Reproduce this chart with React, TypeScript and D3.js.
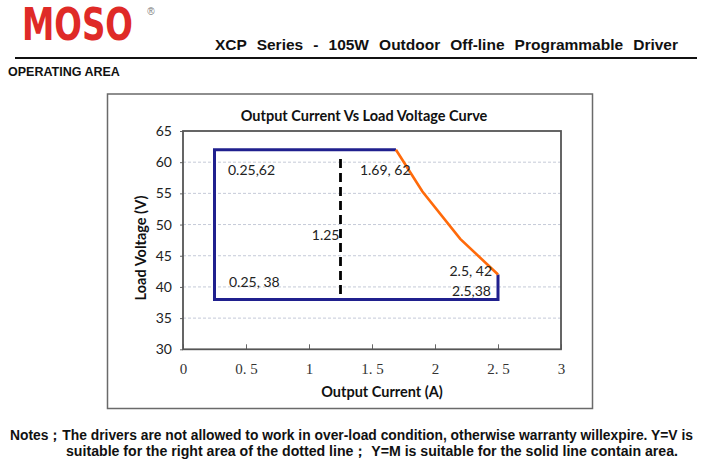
import { useEffect, useRef } from 'react';
import * as d3 from 'd3';

const currentTicks = [0, 0.5, 1, 1.5, 2, 2.5, 3];
const voltageTicks = [30, 35, 40, 45, 50, 55, 60, 65];
const gridVoltages = [35, 40, 45, 50, 55, 60];

// solid boundary of the Y=M area
const boundaryCurrent = [1.69, 0.25, 0.25, 2.5, 2.5];
const boundaryVoltage = [62, 62, 38, 38, 42];

// constant power edge (orange)
const powerCurrent = [1.69, 1.9, 2.2, 2.5];
const powerVoltage = [62, 55.3, 47.7, 42];

// dotted split line
const splitCurrent = 1.25;
const splitVoltage = [60.5, 38];

const labelText = ['0.25,62', '1.69, 62', '1.25', '2.5, 42', '2.5,38', '0.25, 38'];
const labelCurrent = [0.25, 1.69, 1.25, 2.5, 2.5, 0.25];
const labelVoltage = [62, 62, 50, 42, 38, 38];

const title = 'Output Current Vs Load Voltage Curve';
const xTitle = 'Output Current (A)';
const yTitle = 'Load Voltage (V)';
const header = 'XCP Series - 105W Outdoor Off-line Programmable Driver';
const section = 'OPERATING AREA';
const notes = [
  'Notes；The drivers are not allowed to work in over-load condition, otherwise warranty willexpire. Y=V is',
  'suitable for the right area of the dotted line；  Y=M is suitable for the solid line contain area.',
];

const SANS = 'Lato, "Open Sans", sans-serif';
const ARIAL = '"Liberation Sans", Arial, sans-serif';
const NARROW = '"Liberation Sans Narrow", "Liberation Sans", sans-serif';

export default function App() {
  const svgRef = useRef<SVGSVGElement>(null);

  useEffect(() => {
    if (!svgRef.current) return;
    const svg = d3.select(svgRef.current);
    svg.selectAll('*').remove();

    svg.append('rect').attr('width', 709).attr('height', 473).attr('fill', '#fff');

    // page header: logo squeezed to its width with a transform
    const logo = svg.append('text')
      .attr('font-family', '"DejaVu Sans Condensed", "DejaVu Sans", sans-serif')
      .attr('font-weight', 'bold').attr('font-size', 44)
      .attr('fill', '#df2a27')
      .text('MOSO');
    const logoW = (logo.node() as SVGTextElement).getComputedTextLength();
    logo.attr('transform', `translate(22,40) scale(${111 / logoW},1)`);
    svg.append('text')
      .attr('x', 151).attr('y', 15).attr('text-anchor', 'middle')
      .attr('font-family', ARIAL).attr('font-size', 10).attr('fill', '#777')
      .text('®');

    const head = svg.append('text')
      .attr('x', 215).attr('y', 50)
      .attr('font-family', ARIAL).attr('font-weight', 'bold').attr('font-size', 15.5)
      .attr('fill', '#111')
      .text(header);
    const hn = head.node() as SVGTextElement;
    const gaps = header.split(' ').length - 1;
    head.style('word-spacing', `${(463 - hn.getComputedTextLength()) / gaps}px`);

    svg.append('line')
      .attr('x1', 15).attr('x2', 697).attr('y1', 58).attr('y2', 58)
      .attr('stroke', '#111').attr('stroke-width', 2);

    svg.append('text')
      .attr('x', 8).attr('y', 76)
      .attr('font-family', ARIAL).attr('font-weight', 'bold').attr('font-size', 12.5)
      .attr('fill', '#111')
      .text(section);

    // chart frame
    svg.append('rect')
      .attr('x', 107.5).attr('y', 94).attr('width', 485).attr('height', 314.5)
      .attr('fill', 'none').attr('stroke', '#6a6a6a').attr('stroke-width', 1.5);

    const left = 183, right = 561, top = 131, bottom = 349.3;
    const x = d3.scaleLinear().domain([0, 3]).range([left, right]);
    const y = d3.scaleLinear().domain([30, 65]).range([bottom, top]);

    svg.append('text')
      .attr('x', 364).attr('y', 120.5).attr('text-anchor', 'middle')
      .attr('font-family', SANS).attr('font-weight', 'bold').attr('font-size', 14.5)
      .attr('fill', '#111')
      .text(title);

    // grid
    svg.append('g')
      .selectAll('line')
      .data(gridVoltages)
      .join('line')
      .attr('x1', left).attr('x2', right)
      .attr('y1', d => y(d)).attr('y2', d => y(d))
      .attr('stroke', '#c5cad8').attr('stroke-width', 1)
      .attr('stroke-dasharray', '3,2');

    // y axis
    const yAxis = svg.append('g')
      .attr('transform', `translate(${left},0)`)
      .call(d3.axisLeft(y).tickValues(voltageTicks).tickSize(3).tickPadding(8));
    yAxis.select('.domain').remove();
    yAxis.selectAll('line').attr('stroke', '#666');
    yAxis.selectAll('text')
      .attr('font-family', SANS).attr('font-size', 14).attr('fill', '#222');

    // x axis, ticks pointing inward
    const xAxis = svg.append('g')
      .attr('transform', `translate(0,${bottom})`)
      .call(d3.axisBottom(x).tickValues(currentTicks).tickSize(-5).tickPadding(14)
        .tickFormat(d => d3.format('')(d as number).replace('.', '. ')));
    xAxis.select('.domain').remove();
    xAxis.selectAll('line').attr('stroke', '#666');
    xAxis.selectAll('text')
      .attr('font-family', '"Liberation Serif", "DejaVu Serif", serif')
      .attr('font-size', 15).attr('fill', '#333');

    svg.append('rect')
      .attr('x', left).attr('y', top).attr('width', right - left).attr('height', bottom - top)
      .attr('fill', 'none').attr('stroke', '#555').attr('stroke-width', 1.8);

    svg.append('text')
      .attr('x', 382).attr('y', 397).attr('text-anchor', 'middle')
      .attr('font-family', SANS).attr('font-weight', 'bold').attr('font-size', 14.5)
      .attr('fill', '#111')
      .text(xTitle);
    svg.append('text')
      .attr('transform', 'translate(146,248) rotate(-90)').attr('text-anchor', 'middle')
      .attr('font-family', SANS).attr('font-weight', 'bold').attr('font-size', 14.5)
      .attr('fill', '#111')
      .text(yTitle);

    // dashed split line
    svg.append('line')
      .attr('x1', x(splitCurrent)).attr('x2', x(splitCurrent))
      .attr('y1', y(splitVoltage[0])).attr('y2', y(splitVoltage[1]))
      .attr('stroke', '#000').attr('stroke-width', 2.8)
      .attr('stroke-dasharray', '9,5');

    const boundary = boundaryCurrent.map((c, i) => [x(c), y(boundaryVoltage[i])] as [number, number]);
    svg.append('path')
      .attr('d', d3.line()(boundary))
      .attr('fill', 'none').attr('stroke', '#20208e').attr('stroke-width', 3)
      .attr('stroke-linejoin', 'miter');

    const power = powerCurrent.map((c, i) => [x(c), y(powerVoltage[i])] as [number, number]);
    svg.append('path')
      .attr('d', d3.line()(power))
      .attr('fill', 'none').attr('stroke', '#ff6a0a').attr('stroke-width', 2.6);

    // point labels
    const dx = [13.5, -36, -1, -6, -7, 14.5];
    const dy = [25, 25, 15, 2, -3, -12];
    const anchor = ['start', 'start', 'end', 'end', 'end', 'start'];
    svg.append('g')
      .selectAll('text')
      .data(labelText)
      .join('text')
      .attr('x', (_, i) => x(labelCurrent[i]) + dx[i])
      .attr('y', (_, i) => y(labelVoltage[i]) + dy[i])
      .attr('text-anchor', (_, i) => anchor[i])
      .attr('font-family', SANS).attr('font-size', 14).attr('fill', '#222')
      .text(d => d);

    // notes
    const noteX = [10, 66];
    const noteW = [683, 612];
    const noteY = [440, 456];
    svg.append('g')
      .selectAll('text')
      .data(notes)
      .join('text')
      .attr('x', (_, i) => noteX[i])
      .attr('y', (_, i) => noteY[i])
      .attr('textLength', (_, i) => noteW[i])
      .attr('lengthAdjust', 'spacingAndGlyphs')
      .attr('font-family', NARROW).attr('font-weight', 'bold').attr('font-size', 14)
      .attr('fill', '#111')
      .text(d => d);
  }, []);

  return (
    <svg
      ref={svgRef}
      width={709}
      height={473}
      style={{ position: 'absolute', left: 0, top: 0 }}
    />
  );
}
